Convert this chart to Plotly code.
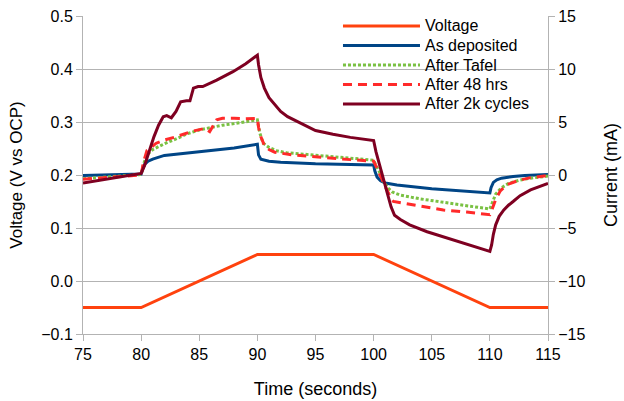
import plotly.graph_objects as go

# ---- Data ----
volt_t = [75, 80, 90, 100, 110, 115]
volt_v = [-0.05, -0.05, 0.05, 0.05, -0.05, -0.05]

asdep_t = [75, 80, 80.15, 80.3, 80.6, 81, 82, 85, 88, 90, 90.1, 90.3, 90.7, 91, 92, 95,
           100, 100.1, 100.3, 100.6, 101, 102, 105, 108, 110, 110.1, 110.3, 110.6, 111, 112, 113, 115]
asdep_i = [-0.05, 0.1, 0.6, 1.0, 1.3, 1.5, 1.85, 2.2, 2.55, 2.9, 1.9, 1.5, 1.35, 1.3, 1.2, 1.05,
           0.95, 0.4, -0.2, -0.55, -0.75, -0.95, -1.3, -1.55, -1.7, -1.2, -0.7, -0.45, -0.3, -0.15, -0.05, 0.05]

tafel_t = [75, 80, 80.2, 80.5, 81, 82, 83, 84, 85, 86, 87, 88, 89, 90, 90.2, 90.5, 91, 91.6,
           92.5, 94, 96, 98, 100, 100.2, 100.5, 100.8, 101.2, 101.6, 102.3, 104, 106, 108, 110,
           110.2, 110.5, 111, 111.6, 112.5, 113.5, 115]
tafel_i = [-0.35, 0.05, 1.0, 1.9, 2.4, 2.95, 3.4, 3.9, 4.25, 4.5, 4.7, 4.85, 5.0, 5.2, 4.0, 3.0, 2.6, 2.3,
           2.1, 1.95, 1.75, 1.6, 1.4, 0.9, 0.3, -0.5, -1.2, -1.6, -1.9, -2.25, -2.6, -2.9, -3.2,
           -2.6, -1.8, -1.2, -0.8, -0.5, -0.3, -0.1]

h48_t = [75, 80, 80.2, 80.5, 81.3, 82, 83, 84.3, 85.5, 85.9, 86.5, 87, 88, 89, 90, 90.1, 90.3, 90.6,
         91, 91.5, 93, 95, 98, 100, 100.2, 100.5, 100.8, 101.1, 101.4, 101.7, 102.5, 104, 106, 108,
         110, 110.2, 110.5, 110.9, 111.5, 112.5, 113.5, 115]
h48_i = [-0.4, 0.0, 1.2, 2.3, 3.0, 3.3, 3.6, 4.1, 4.4, 4.1, 5.2, 5.35, 5.35, 5.3, 5.35, 4.5, 3.6, 2.8,
         2.4, 2.15, 1.9, 1.7, 1.45, 1.3, 0.8, 0.1, -0.7, -1.3, -2.0, -2.5, -2.65, -2.9, -3.3, -3.5,
         -3.75, -3.2, -2.3, -1.5, -0.9, -0.5, -0.25, -0.05]

k2_t = [75, 80, 80.3, 80.6, 81.1, 81.5, 81.9, 82.2, 82.6, 83.0, 83.4, 83.9, 84.2, 84.5, 84.9, 85.3,
        86.5, 87.9, 89, 90, 90.1, 90.3, 90.6, 91, 91.5, 92.0, 92.6, 93.3, 94, 95, 96.5, 98, 100, 100.2,
        100.5, 100.8, 101.1, 101.5, 101.8, 102.3, 103.1, 104.6, 107.4, 110, 110.15, 110.3, 110.5,
        110.8, 111.2, 111.6, 112, 112.6, 113.5, 114.3, 115]
k2_i = [-0.75, 0.15, 0.9, 2.0, 3.6, 4.7, 5.5, 5.6, 5.4, 6.0, 6.9, 7.0, 7.0, 8.2, 8.35, 8.35,
        8.95, 9.75, 10.5, 11.3, 10.4, 9.2, 8.2, 7.3, 6.6, 6.0, 5.5, 5.1, 4.75, 4.2, 3.85, 3.55, 3.25, 2.2,
        1.0, -0.3, -1.4, -3.0, -3.8, -4.2, -4.7, -5.35, -6.3, -7.2, -6.6, -5.6, -4.7,
        -3.9, -3.3, -2.85, -2.5, -1.95, -1.4, -1.05, -0.8]

series_names = ["Voltage", "As deposited", "After Tafel", "After 48 hrs", "After 2k cycles"]
series_colors = ["#ff420e", "#004586", "#7ac143", "#ff2a2a", "#7e0021"]
series_dash = ["solid", "solid", "3px,2px", "9px,6px", "solid"]

FONT = "Liberation Sans, Arial, sans-serif"
GRID = "#b3b3b3"

fig = go.Figure()
all_t = [volt_t, asdep_t, tafel_t, h48_t, k2_t]
all_y = [volt_v, asdep_i, tafel_i, h48_i, k2_i]
for k in range(5):
    fig.add_trace(go.Scatter(x=all_t[k], y=all_y[k], name=series_names[k], mode="lines",
                             line=dict(color=series_colors[k], width=3, dash=series_dash[k]),
                             yaxis="y" if k == 0 else "y2", showlegend=False))

# legend drawn inside the plot, top right (line sample + label)
leg_x0, leg_x1, leg_tx = 0.5591, 0.7247, 0.7312
leg_y = [0.9686, 0.9072, 0.8459, 0.7846, 0.7233]
shapes, annotations = [], []
for k in range(5):
    shapes.append(dict(type="line", xref="paper", yref="paper", x0=leg_x0, x1=leg_x1,
                       y0=leg_y[k], y1=leg_y[k],
                       line=dict(color=series_colors[k], width=3, dash=series_dash[k])))
    annotations.append(dict(xref="paper", yref="paper", x=leg_tx, y=leg_y[k], text=series_names[k],
                            showarrow=False, xanchor="left", yanchor="middle",
                            font=dict(family=FONT, size=16, color="#000")))

axis_common = dict(showline=True, linecolor=GRID, linewidth=1, ticks="outside",
                   ticklen=6, tickcolor=GRID, zeroline=False, automargin=False,
                   tickfont=dict(family=FONT, size=16, color="#000"))

fig.update_layout(
    width=624, height=401,
    margin=dict(l=83, r=76, t=16, b=67),
    paper_bgcolor="white", plot_bgcolor="white",
    font=dict(family=FONT, size=16, color="#000"),
    xaxis=dict(range=[75, 115], dtick=5, showgrid=False,
               title=dict(text="Time (seconds)", font=dict(family=FONT, size=18), standoff=20),
               **axis_common),
    yaxis=dict(range=[-0.1, 0.5], dtick=0.1, tickformat=".1f", showgrid=True, gridcolor=GRID,
               title=dict(text="Voltage (V vs OCP)", font=dict(family=FONT, size=17), standoff=14),
               **axis_common),
    yaxis2=dict(range=[-15, 15], dtick=5, overlaying="y", side="right", showgrid=False,
                title=dict(text="Current (mA)", font=dict(family=FONT, size=18), standoff=19),
                **axis_common),
    shapes=shapes,
    annotations=annotations,
    showlegend=False,
)

fig.write_html("out.html", config={"displayModeBar": False},
               post_script="document.body.style.margin='0';")
